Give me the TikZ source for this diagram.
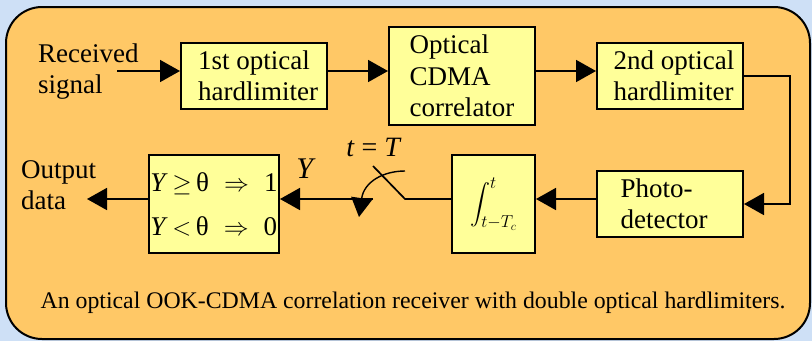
\documentclass[tikz,border=0pt]{standalone}
\usepackage{amsmath, amssymb}
\usepackage{fontspec}
\setmainfont{Liberation Serif}
\usepackage{tikz}
\usetikzlibrary{arrows.meta,positioning,calc}

\definecolor{skyback}{RGB}{206,224,246}
\definecolor{panelorange}{RGB}{255,200,102}
\definecolor{boxyellow}{RGB}{255,255,153}

% limits of the integrator, set larger than script size
\newcommand{\limsz}[1]{\hbox{\fontsize{17}{19}\selectfont$#1$}}

\begin{document}
\begin{tikzpicture}[x=1pt, y=-1pt,
  blk/.style={draw, line width=2pt, fill=boxyellow, align=left, inner sep=0pt,
    font=\fontsize{27}{31.5}\selectfont},
  wire/.style={line width=1.7pt},
  flow/.style={wire, -{Triangle[length=20pt,width=22pt]}},
  lbl/.style={align=left, inner sep=0pt, font=\fontsize{27}{31}\selectfont}]

  % panel
  \fill[skyback] (0,0) rectangle (812,341);
  \draw[line width=2pt, fill=panelorange, rounded corners=36pt] (6,7) rectangle (810,339);
  \useasboundingbox (0,0) rectangle (812,341);

  % top row
  \node[blk, minimum width=146pt, minimum height=66pt] (hl1) at (254,76) {\hspace*{8pt}1st optical\\\hspace*{8pt}hardlimiter};
  \node[blk, minimum width=146pt, minimum height=98pt] (corr) at (462,76) {Optical\\CDMA\\correlator};
  \node[blk, minimum width=146pt, minimum height=66pt] (hl2) at (670,76) {\hspace*{8pt}2nd optical\\\hspace*{8pt}hardlimiter};

  % bottom row
  \node[blk, minimum width=146pt, minimum height=66pt] (pd) at (670,204) {Photo-\\detector\hspace*{12pt}};
  \node[blk, minimum width=83pt, minimum height=98pt, font=\fontsize{20}{22}\selectfont] (intg) at (493.5,204)
    {$\displaystyle\int_{\limsz{t{-}T_c}}^{\limsz{t}}$};
  \node[blk, minimum width=130pt, minimum height=98pt, font=\fontsize{27}{44}\selectfont] (dec) at (214,204)
    {\textit{Y}\,$\geq$\,θ\;\;$\Rightarrow$\;\;1\\\textit{Y}\,$<$\,θ\;\;$\Rightarrow$\;\;0};

  % inputs and outputs
  \node[lbl, anchor=west] (rxlbl) at (38,72) {Received\\signal};
  \node[lbl, anchor=west] (outlbl) at (21,185) {Output\\data};
  \coordinate (rx) at (117,71);
  \coordinate (ox) at (87,199);

  % sampling switch
  \coordinate (sw1) at (373,199);
  \coordinate (sw2) at (405,199);
  \coordinate (swa) at (373,166);
  \coordinate (cs) at (405,171);
  \coordinate (ce) at (359,217);
  \node[inner sep=0pt, font=\fontsize{28}{30}\selectfont] (tT) at (374,147) {\textit{t} = \textit{T}};
  \node[inner sep=0pt, font=\fontsize{30}{32}\selectfont] (ylbl) at (306,169) {\textit{Y}};

  % connections
  \draw[flow] (rx) -- (rx -| hl1.west);
  \draw[flow] (hl1.east |- rx) -- (corr.west |- rx);
  \draw[flow] (corr.east |- rx) -- (hl2.west |- rx);
  \draw[flow] (hl2.east) -- ++(46,0) |- (pd.east);
  \draw[flow] (pd.west |- ox) -- (intg.east |- ox);
  \draw[wire] (intg.west |- ox) -- (sw2) -- (swa);
  \draw[flow] (sw1) -- (dec.east |- ox);
  \draw[flow] (dec.west |- ox) -- (ox);
  \draw[line width=1.4pt, -{Triangle[length=19pt,width=21pt]}] (cs) .. controls (383,171) and (364,182) .. (ce);

  % caption
  \node[inner sep=0pt, font=\fontsize{23.8}{26}\selectfont] (cap) at (413,303)
    {An optical OOK-CDMA correlation receiver with double optical hardlimiters.};
\end{tikzpicture}
\end{document}
